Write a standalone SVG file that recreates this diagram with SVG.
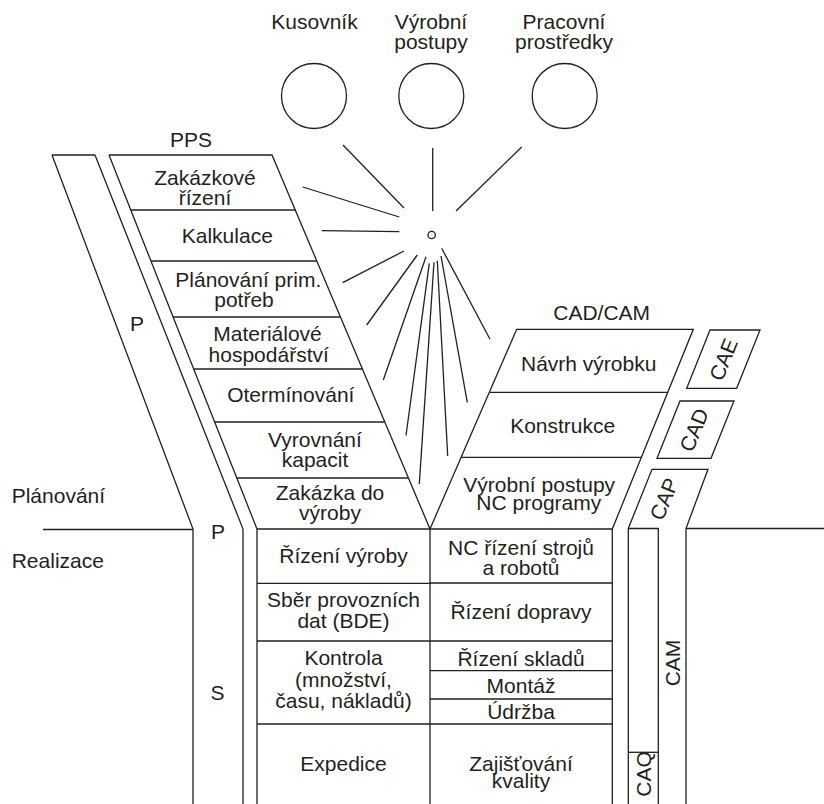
<svg xmlns="http://www.w3.org/2000/svg" width="824" height="804" viewBox="0 0 824 804">
<style>
.t{font-family:"Liberation Sans",Arial,Helvetica,sans-serif;font-size:21px;fill:#231f20;text-anchor:middle}
.s{text-anchor:start}
.l{fill:none;stroke:#231f20;stroke-width:1.3;stroke-linejoin:miter}
</style>
<rect width="824" height="804" fill="#fff"/>

<g id="kusovnik">
<circle class="l" cx="314" cy="96" r="32.5"/>
<text class="t" x="314.5" y="28.5">Kusovník</text>
</g>
<g id="vyrobni-postupy-db">
<circle class="l" cx="431.3" cy="96" r="32.5"/>
<text class="t" x="431" y="29">Výrobní</text>
<text class="t" x="431" y="49">postupy</text>
</g>
<g id="pracovni-prostredky">
<circle class="l" cx="564.7" cy="96" r="32.5"/>
<text class="t" x="564" y="29">Pracovní</text>
<text class="t" x="564" y="49">prostředky</text>
</g>
<g id="hub">
<circle class="l" cx="431.7" cy="235" r="3.7"/>
</g>

<g id="connectors" class="l">
<line x1="343" y1="145" x2="404" y2="208"/>
<line x1="432.7" y1="148" x2="432.7" y2="211"/>
<line x1="521.7" y1="147" x2="456" y2="211"/>
<line x1="302.7" y1="187" x2="399.3" y2="217"/>
<line x1="321.7" y1="230.7" x2="399.3" y2="231.7"/>
<line x1="404" y1="251" x2="342.7" y2="282.7"/>
<line x1="417.3" y1="255" x2="366.7" y2="325"/>
<line x1="426" y1="256.7" x2="383.3" y2="380"/>
<line x1="429.3" y1="263.3" x2="406" y2="435.5"/>
<line x1="434" y1="262.3" x2="419.3" y2="484"/>
<line x1="437.3" y1="260.7" x2="447.7" y2="456"/>
<line x1="441" y1="256" x2="467.3" y2="402.3"/>
<line x1="441.7" y1="248.3" x2="490" y2="339.3"/>
</g>

<g id="p-band">
<path class="l" d="M52,155 H95 M52,155 L193,529 V804 M95,155 L243,529 V804"/>
<text class="t" x="137" y="331">P</text>
<text class="t" x="218" y="538.5">P</text>
<text class="t" x="217.5" y="700">S</text>
</g>

<g id="phase-divider">
<path class="l" d="M43,529.5 H193 M686,528.5 H824"/>
<text class="t s" x="11.7" y="503.3">Plánování</text>
<text class="t s" x="11.7" y="568.3">Realizace</text>
</g>

<g id="pps">
<text class="t" x="191" y="147">PPS</text>
<path class="l" d="M109,155 H272 L430,529 M109,155 L257,529"/>
<g id="pps-zakazkove-rizeni">
<line class="l" x1="130.8" y1="210" x2="295.2" y2="210"/>
<text class="t" x="205" y="185">Zakázkové</text>
<text class="t" x="205" y="205">řízení</text>
</g>
<g id="pps-kalkulace">
<line class="l" x1="151" y1="261" x2="316.8" y2="261"/>
<text class="t" x="227.3" y="243.3">Kalkulace</text>
</g>
<g id="pps-planovani">
<line class="l" x1="173.1" y1="317" x2="340.4" y2="317"/>
<text class="t" x="248.3" y="287">Plánování prim.</text>
<text class="t" x="244" y="306.5">potřeb</text>
</g>
<g id="pps-materialove">
<line class="l" x1="193.7" y1="369" x2="362.4" y2="369"/>
<text class="t" x="267.5" y="341">Materiálové</text>
<text class="t" x="268.7" y="361.5">hospodářství</text>
</g>
<g id="pps-oterminovani">
<line class="l" x1="214.7" y1="422" x2="384.8" y2="422"/>
<text class="t" x="290.8" y="401.7">Otermínování</text>
</g>
<g id="pps-vyrovnani">
<line class="l" x1="236.8" y1="478" x2="408.5" y2="478"/>
<text class="t" x="315" y="446.7">Vyrovnání</text>
<text class="t" x="315" y="466.7">kapacit</text>
</g>
<g id="pps-zakazka">
<text class="t" x="330" y="500">Zakázka do</text>
<text class="t" x="330" y="520">výroby</text>
</g>
</g>

<g id="cadcam">
<text class="t" x="601.7" y="319.5">CAD/CAM</text>
<path class="l" d="M430,529 L516.7,329.3 H693.3 L612.3,529"/>
<g id="cad-navrh">
<line class="l" x1="489.3" y1="392.3" x2="667.7" y2="392.3"/>
<text class="t" x="588.7" y="371">Návrh výrobku</text>
</g>
<g id="cad-konstrukce">
<line class="l" x1="461.1" y1="457.3" x2="641.4" y2="457.3"/>
<text class="t" x="562.7" y="433.3">Konstrukce</text>
</g>
<g id="cad-vyrobni">
<text class="t" x="539.2" y="491.7">Výrobní postupy</text>
<text class="t" x="538.8" y="510">NC programy</text>
</g>
</g>

<g id="cae">
<path class="l" d="M710,330 H760 L736.7,388.3 H686.7 Z"/>
<text class="t" transform="translate(723.3,359.5) rotate(-68)" y="7.5">CAE</text>
</g>
<g id="cad">
<path class="l" d="M680,401 H734 L711,458.3 H657 Z"/>
<text class="t" transform="translate(693.8,430) rotate(-68)" y="7.5">CAD</text>
</g>
<g id="cap-cam-band">
<path class="l" d="M628.3,804 V528.5 L652,469.3 H708 L686,528.5 V804"/>
<text class="t" transform="translate(664,499) rotate(-68)" y="7.5">CAP</text>
</g>
<g id="cam">
<path class="l" d="M628.3,528.5 H658.3 V804"/>
<text class="t" transform="translate(672,663) rotate(-90)" y="7.5">CAM</text>
</g>
<g id="caq">
<line class="l" x1="628.3" y1="752.3" x2="658.3" y2="752.3"/>
<text class="t" transform="translate(643,774) rotate(-90)" y="7.5">CAQ</text>
</g>

<g id="realizace">
<path class="l" d="M257,529 V804 M430,529 V804 M612.3,529 V804 M257,529 H612.3"/>
<g id="r-rizeni-vyroby">
<line class="l" x1="257" y1="583.3" x2="430" y2="583.3"/>
<text class="t" x="343.5" y="562.7">Řízení výroby</text>
</g>
<g id="r-sber">
<line class="l" x1="257" y1="641" x2="430" y2="641"/>
<text class="t" x="343.5" y="607.3">Sběr provozních</text>
<text class="t" x="343.5" y="628.3">dat (BDE)</text>
</g>
<g id="r-kontrola">
<line class="l" x1="257" y1="724" x2="430" y2="724"/>
<text class="t" x="343.5" y="665">Kontrola</text>
<text class="t" x="343.5" y="686.7">(množství,</text>
<text class="t" x="343.5" y="708.3">času, nákladů)</text>
</g>
<g id="r-expedice">
<text class="t" x="343.5" y="770.7">Expedice</text>
</g>
<g id="r-nc">
<line class="l" x1="430" y1="583" x2="612.3" y2="583"/>
<text class="t" x="521" y="555">NC řízení strojů</text>
<text class="t" x="521" y="575">a robotů</text>
</g>
<g id="r-doprava">
<line class="l" x1="430" y1="641" x2="612.3" y2="641"/>
<text class="t" x="521" y="619.3">Řízení dopravy</text>
</g>
<g id="r-sklady">
<line class="l" x1="430" y1="670.7" x2="612.3" y2="670.7"/>
<text class="t" x="521" y="665.5">Řízení skladů</text>
</g>
<g id="r-montaz">
<line class="l" x1="430" y1="699" x2="612.3" y2="699"/>
<text class="t" x="521" y="693.3">Montáž</text>
</g>
<g id="r-udrzba">
<line class="l" x1="430" y1="724" x2="612.3" y2="724"/>
<text class="t" x="521" y="719">Údržba</text>
</g>
<g id="r-kvalita">
<text class="t" x="521" y="771">Zajišťování</text>
<text class="t" x="521" y="788">kvality</text>
</g>
</g>
</svg>
